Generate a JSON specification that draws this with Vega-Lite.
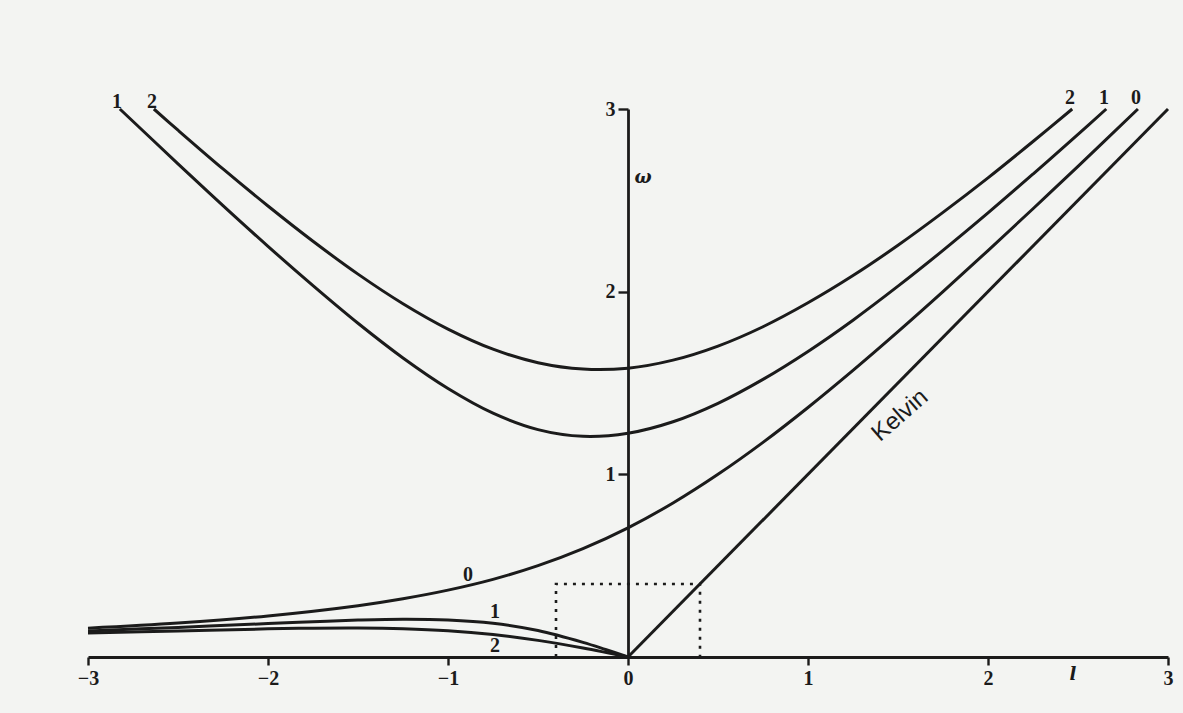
{
  "$schema": "https://vega.github.io/schema/vega-lite/v6.json",
  "width": 1080,
  "height": 548,
  "autosize": {"type": "none"},
  "padding": {"left": 88, "top": 109, "right": 15, "bottom": 56},
  "background": "#f3f4f2",
  "config": {"view": {"stroke": null}, "axis": {"grid": false}},
  "datasets": {
    "curves": [
      {"curve": "gravity 1", "l": -2.823, "w": 3.0},
      {"curve": "gravity 1", "l": -2.5, "w": 2.7},
      {"curve": "gravity 1", "l": -2.25, "w": 2.471},
      {"curve": "gravity 1", "l": -2.0, "w": 2.248},
      {"curve": "gravity 1", "l": -1.75, "w": 2.033},
      {"curve": "gravity 1", "l": -1.5, "w": 1.827},
      {"curve": "gravity 1", "l": -1.25, "w": 1.637},
      {"curve": "gravity 1", "l": -1.0, "w": 1.47},
      {"curve": "gravity 1", "l": -0.75, "w": 1.335},
      {"curve": "gravity 1", "l": -0.5, "w": 1.245},
      {"curve": "gravity 1", "l": -0.25, "w": 1.208},
      {"curve": "gravity 1", "l": 0.0, "w": 1.225},
      {"curve": "gravity 1", "l": 0.25, "w": 1.288},
      {"curve": "gravity 1", "l": 0.5, "w": 1.389},
      {"curve": "gravity 1", "l": 0.75, "w": 1.52},
      {"curve": "gravity 1", "l": 1.0, "w": 1.673},
      {"curve": "gravity 1", "l": 1.25, "w": 1.844},
      {"curve": "gravity 1", "l": 1.5, "w": 2.03},
      {"curve": "gravity 1", "l": 1.75, "w": 2.226},
      {"curve": "gravity 1", "l": 2.0, "w": 2.431},
      {"curve": "gravity 1", "l": 2.25, "w": 2.644},
      {"curve": "gravity 1", "l": 2.5, "w": 2.861},
      {"curve": "gravity 1", "l": 2.657, "w": 3.0},

      {"curve": "gravity 2", "l": -2.634, "w": 3.0},
      {"curve": "gravity 2", "l": -2.5, "w": 2.884},
      {"curve": "gravity 2", "l": -2.25, "w": 2.672},
      {"curve": "gravity 2", "l": -2.0, "w": 2.469},
      {"curve": "gravity 2", "l": -1.75, "w": 2.276},
      {"curve": "gravity 2", "l": -1.5, "w": 2.096},
      {"curve": "gravity 2", "l": -1.25, "w": 1.934},
      {"curve": "gravity 2", "l": -1.0, "w": 1.795},
      {"curve": "gravity 2", "l": -0.75, "w": 1.685},
      {"curve": "gravity 2", "l": -0.5, "w": 1.611},
      {"curve": "gravity 2", "l": -0.25, "w": 1.576},
      {"curve": "gravity 2", "l": 0.0, "w": 1.581},
      {"curve": "gravity 2", "l": 0.25, "w": 1.625},
      {"curve": "gravity 2", "l": 0.5, "w": 1.702},
      {"curve": "gravity 2", "l": 0.75, "w": 1.808},
      {"curve": "gravity 2", "l": 1.0, "w": 1.939},
      {"curve": "gravity 2", "l": 1.25, "w": 2.088},
      {"curve": "gravity 2", "l": 1.5, "w": 2.254},
      {"curve": "gravity 2", "l": 1.75, "w": 2.434},
      {"curve": "gravity 2", "l": 2.0, "w": 2.623},
      {"curve": "gravity 2", "l": 2.25, "w": 2.822},
      {"curve": "gravity 2", "l": 2.468, "w": 3.0},

      {"curve": "mixed 0", "l": -3.0, "w": 0.158},
      {"curve": "mixed 0", "l": -2.5, "w": 0.186},
      {"curve": "mixed 0", "l": -2.0, "w": 0.225},
      {"curve": "mixed 0", "l": -1.5, "w": 0.281},
      {"curve": "mixed 0", "l": -1.25, "w": 0.319},
      {"curve": "mixed 0", "l": -1.0, "w": 0.366},
      {"curve": "mixed 0", "l": -0.75, "w": 0.425},
      {"curve": "mixed 0", "l": -0.5, "w": 0.5},
      {"curve": "mixed 0", "l": -0.25, "w": 0.593},
      {"curve": "mixed 0", "l": 0.0, "w": 0.707},
      {"curve": "mixed 0", "l": 0.25, "w": 0.843},
      {"curve": "mixed 0", "l": 0.5, "w": 1.0},
      {"curve": "mixed 0", "l": 0.75, "w": 1.175},
      {"curve": "mixed 0", "l": 1.0, "w": 1.366},
      {"curve": "mixed 0", "l": 1.25, "w": 1.569},
      {"curve": "mixed 0", "l": 1.5, "w": 1.781},
      {"curve": "mixed 0", "l": 1.75, "w": 2.0},
      {"curve": "mixed 0", "l": 2.0, "w": 2.225},
      {"curve": "mixed 0", "l": 2.25, "w": 2.454},
      {"curve": "mixed 0", "l": 2.5, "w": 2.686},
      {"curve": "mixed 0", "l": 2.833, "w": 3.0},

      {"curve": "rossby 1", "l": -3.0, "w": 0.143},
      {"curve": "rossby 1", "l": -2.5, "w": 0.162},
      {"curve": "rossby 1", "l": -2.0, "w": 0.183},
      {"curve": "rossby 1", "l": -1.75, "w": 0.193},
      {"curve": "rossby 1", "l": -1.5, "w": 0.202},
      {"curve": "rossby 1", "l": -1.25, "w": 0.207},
      {"curve": "rossby 1", "l": -1.0, "w": 0.203},
      {"curve": "rossby 1", "l": -0.75, "w": 0.185},
      {"curve": "rossby 1", "l": -0.5, "w": 0.145},
      {"curve": "rossby 1", "l": -0.25, "w": 0.08},
      {"curve": "rossby 1", "l": -0.125, "w": 0.041},
      {"curve": "rossby 1", "l": 0.0, "w": 0.0},

      {"curve": "rossby 2", "l": -3.0, "w": 0.131},
      {"curve": "rossby 2", "l": -2.5, "w": 0.143},
      {"curve": "rossby 2", "l": -2.0, "w": 0.154},
      {"curve": "rossby 2", "l": -1.75, "w": 0.158},
      {"curve": "rossby 2", "l": -1.5, "w": 0.159},
      {"curve": "rossby 2", "l": -1.25, "w": 0.155},
      {"curve": "rossby 2", "l": -1.0, "w": 0.144},
      {"curve": "rossby 2", "l": -0.75, "w": 0.123},
      {"curve": "rossby 2", "l": -0.5, "w": 0.091},
      {"curve": "rossby 2", "l": -0.25, "w": 0.049},
      {"curve": "rossby 2", "l": 0.0, "w": 0.0},

      {"curve": "kelvin", "l": 0.0, "w": 0.0},
      {"curve": "kelvin", "l": 3.0, "w": 3.0}
    ],
    "box": [
      {"step": 1, "l": -0.4, "w": 0.0},
      {"step": 2, "l": -0.4, "w": 0.4},
      {"step": 3, "l": 0.4, "w": 0.4},
      {"step": 4, "l": 0.4, "w": 0.0}
    ],
    "modeLabels": [
      {"text": "1", "l": -2.839, "w": 3.04},
      {"text": "2", "l": -2.644, "w": 3.04},
      {"text": "2", "l": 2.456, "w": 3.06},
      {"text": "1", "l": 2.644, "w": 3.06},
      {"text": "0", "l": 2.822, "w": 3.06},
      {"text": "0", "l": -0.889, "w": 0.449},
      {"text": "1", "l": -0.739, "w": 0.246},
      {"text": "2", "l": -0.739, "w": 0.06}
    ],
    "kelvinLabel": [
      {"text": "Kelvin", "l": 1.512, "w": 1.322}
    ],
    "axisNames": [
      {"text": "ω", "l": 0.083, "w": 2.62},
      {"text": "l", "l": 2.472, "w": -0.1}
    ]
  },
  "layer": [
    {
      "data": {"name": "curves"},
      "mark": {"type": "line", "stroke": "#1b1b1b", "strokeWidth": 3, "interpolate": "catmull-rom"},
      "encoding": {
        "x": {
          "field": "l", "type": "quantitative",
          "scale": {"domain": [-3, 3], "nice": false, "zero": false},
          "axis": {
            "values": [-3, -2, -1, 0, 1, 2, 3],
            "format": "d",
            "title": null,
            "domainColor": "#1b1b1b", "domainWidth": 2.8,
            "tickColor": "#1b1b1b", "tickWidth": 2.4, "tickSize": 8,
            "labelFont": "Liberation Serif", "labelFontWeight": "bold", "labelFontSize": 20,
            "labelColor": "#1b1b1b", "labelPadding": 3, "labelFlush": false
          }
        },
        "y": {
          "field": "w", "type": "quantitative",
          "scale": {"domain": [0, 3], "nice": false},
          "axis": {
            "values": [1, 2, 3],
            "format": "d",
            "title": null,
            "offset": -540,
            "domainColor": "#1b1b1b", "domainWidth": 2.8,
            "tickColor": "#1b1b1b", "tickWidth": 2.4, "tickSize": 10,
            "labelFont": "Liberation Serif", "labelFontWeight": "bold", "labelFontSize": 20,
            "labelColor": "#1b1b1b", "labelPadding": 3, "labelFlush": false
          }
        },
        "detail": {"field": "curve"}
      }
    },
    {
      "data": {"name": "box"},
      "mark": {"type": "line", "stroke": "#1b1b1b", "strokeWidth": 2.6, "strokeDash": [3, 6]},
      "encoding": {
        "x": {"field": "l", "type": "quantitative"},
        "y": {"field": "w", "type": "quantitative"},
        "order": {"field": "step"}
      }
    },
    {
      "data": {"name": "modeLabels"},
      "mark": {"type": "text", "font": "Liberation Serif", "fontWeight": "bold", "fontSize": 20, "color": "#1b1b1b", "clip": false},
      "encoding": {
        "x": {"field": "l", "type": "quantitative"},
        "y": {"field": "w", "type": "quantitative"},
        "text": {"field": "text"}
      }
    },
    {
      "data": {"name": "kelvinLabel"},
      "mark": {"type": "text", "font": "Liberation Sans", "fontSize": 24, "angle": -41, "color": "#1b1b1b"},
      "encoding": {
        "x": {"field": "l", "type": "quantitative"},
        "y": {"field": "w", "type": "quantitative"},
        "text": {"field": "text"}
      }
    },
    {
      "data": {"name": "axisNames"},
      "mark": {"type": "text", "font": "DejaVu Serif", "fontStyle": "italic", "fontWeight": "bold", "fontSize": 18, "color": "#1b1b1b", "clip": false},
      "encoding": {
        "x": {"field": "l", "type": "quantitative"},
        "y": {"field": "w", "type": "quantitative"},
        "text": {"field": "text"}
      }
    }
  ]
}
